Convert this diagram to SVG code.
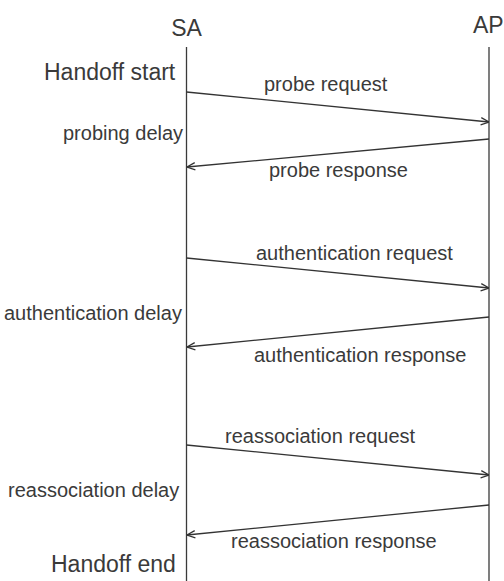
<svg xmlns="http://www.w3.org/2000/svg" width="504" height="581" viewBox="0 0 504 581">
<style>
text{font-family:"Liberation Sans",Arial,sans-serif;fill:#3a3a3a}
.big{font-size:23px}
.sm{font-size:20px}
.life{stroke:#3a3a3a;stroke-width:1.3;fill:none}
.msg{stroke:#333;stroke-width:1.3;fill:none;marker-end:url(#ah)}
</style>
<defs>
<marker id="ah" viewBox="0 0 10 10" refX="10" refY="5" markerWidth="9" markerHeight="9" markerUnits="userSpaceOnUse" orient="auto">
<path d="M1,1 L10,5 L1,9" fill="none" stroke="#333" stroke-width="1.4"/>
</marker>
</defs>
<rect width="504" height="581" fill="#fff"/>
<g id="SA">
<text class="big" x="186.5" y="36" text-anchor="middle">SA</text>
<line class="life" x1="186.5" y1="47" x2="186.5" y2="581"/>
</g>
<g id="AP">
<text class="big" x="473" y="33">AP</text>
<line class="life" x1="489" y1="47" x2="489" y2="581"/>
</g>
<g id="labels">
<text class="big" x="44" y="80">Handoff start</text>
<text class="sm" x="63" y="140">probing delay</text>
<text class="sm" x="4" y="320">authentication delay</text>
<text class="sm" x="8" y="497">reassociation delay</text>
<text class="big" x="51" y="572">Handoff end</text>
</g>
<g id="connectors">
<line class="msg" x1="186.5" y1="92" x2="489" y2="122"/>
<line class="msg" x1="489" y1="139" x2="187" y2="167"/>
<line class="msg" x1="186.5" y1="258" x2="489" y2="288"/>
<line class="msg" x1="489" y1="317" x2="187" y2="347"/>
<line class="msg" x1="186.5" y1="445" x2="489" y2="475"/>
<line class="msg" x1="489" y1="505" x2="187" y2="535"/>
<text class="sm" x="264" y="91">probe request</text>
<text class="sm" x="269" y="177">probe response</text>
<text class="sm" x="256" y="260">authentication request</text>
<text class="sm" x="254" y="362">authentication response</text>
<text class="sm" x="225" y="443">reassociation request</text>
<text class="sm" x="231" y="548">reassociation response</text>
</g>
</svg>
